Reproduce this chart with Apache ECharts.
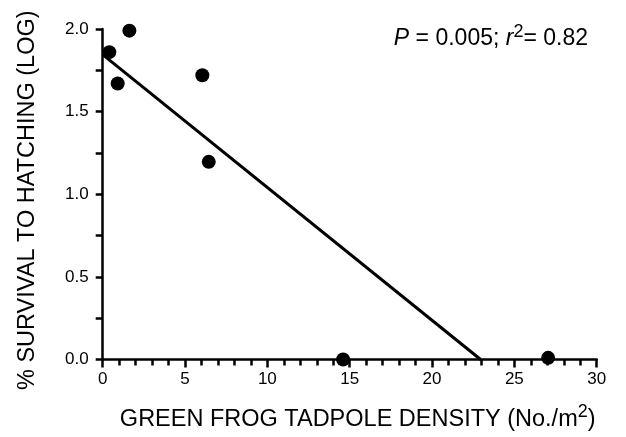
<!DOCTYPE html>
<html><head><meta charset="utf-8">
<script src="https://cdn.jsdelivr.net/npm/echarts@6/dist/echarts.min.js"></script>
<style>html,body{margin:0;padding:0;background:#fff}#c{width:626px;height:437px}</style>
</head><body><div id="c"></div>
<script>
// Data
const densityX = [0.40, 1.62, 0.91, 6.05, 6.44, 14.6, 27.05];
const survivalLog = [1.86, 1.99, 1.67, 1.72, 1.196, 0.0, 0.01];
const fitX = [0, 22.95];
const fitY = [1.845, 0];
const xTicks = [0, 5, 10, 15, 20, 25, 30];
const yTicks = [0.0, 0.5, 1.0, 1.5, 2.0];

const font = 'Liberation Sans, Arial, Helvetica, sans-serif';
const chart = echarts.init(document.getElementById('c'), null, {renderer: 'canvas'});
chart.setOption({
  backgroundColor: '#fff',
  animation: false,
  title: {
    text: '{i|P} = 0.005; {i|r}{sup|2}= 0.82',
    right: 33, top: 18,
    textStyle: {
      fontFamily: font, fontSize: 23, color: '#000', fontWeight: 'normal',
      rich: {
        i: {fontFamily: font, fontSize: 23, fontStyle: 'italic', color: '#000'},
        sup: {fontFamily: font, fontSize: 18, color: '#000', padding: [0, 0, 13, 0]}
      }
    }
  },
  grid: {left: 102.7, right: 29.3, top: 29, bottom: 77.5, containLabel: false},
  xAxis: {
    type: 'value', min: xTicks[0], max: xTicks[xTicks.length - 1], interval: 5,
    name: 'GREEN FROG TADPOLE DENSITY (No./m{sup|2})',
    nameLocation: 'middle', nameGap: 44,
    nameTextStyle: {
      fontFamily: font, fontSize: 23.5, color: '#000', padding: [0, 0, 0, 16],
      rich: {sup: {fontFamily: font, fontSize: 18, color: '#000', padding: [0, 0, 14, 0]}}
    },
    axisLine: {show: true, onZero: false, lineStyle: {color: '#000', width: 2.5}},
    axisTick: {show: true, inside: false, length: 8, lineStyle: {color: '#000', width: 2.5}},
    minorTick: {show: true, splitNumber: 5, length: 6, lineStyle: {color: '#000', width: 2.5}},
    splitLine: {show: false},
    axisLabel: {fontFamily: font, fontSize: 17, color: '#000', margin: 11}
  },
  yAxis: {
    type: 'value', min: yTicks[0], max: yTicks[yTicks.length - 1], interval: 0.5,
    name: '% SURVIVAL TO HATCHING (LOG)',
    nameLocation: 'middle', nameGap: 63, nameRotate: 90,
    nameTextStyle: {fontFamily: font, fontSize: 23.5, color: '#000', padding: [0, 12, 0, 0]},
    axisLine: {show: true, lineStyle: {color: '#000', width: 2.5}},
    axisTick: {show: true, inside: false, length: 7, lineStyle: {color: '#000', width: 2.5}},
    minorTick: {show: true, splitNumber: 2, length: 7, lineStyle: {color: '#000', width: 2.5}},
    splitLine: {show: false},
    axisLabel: {fontFamily: font, fontSize: 17, color: '#000', margin: 14,
      formatter: v => v.toFixed(1)}
  },
  series: [
    {
      type: 'line', data: fitX.map((x, i) => [x, fitY[i]]),
      symbol: 'none', lineStyle: {color: '#000', width: 3}, z: 2
    },
    {
      type: 'scatter', data: densityX.map((x, i) => [x, survivalLog[i]]),
      symbol: 'circle', symbolSize: 14, itemStyle: {color: '#000', opacity: 1}, z: 3
    }
  ]
});
</script></body></html>
